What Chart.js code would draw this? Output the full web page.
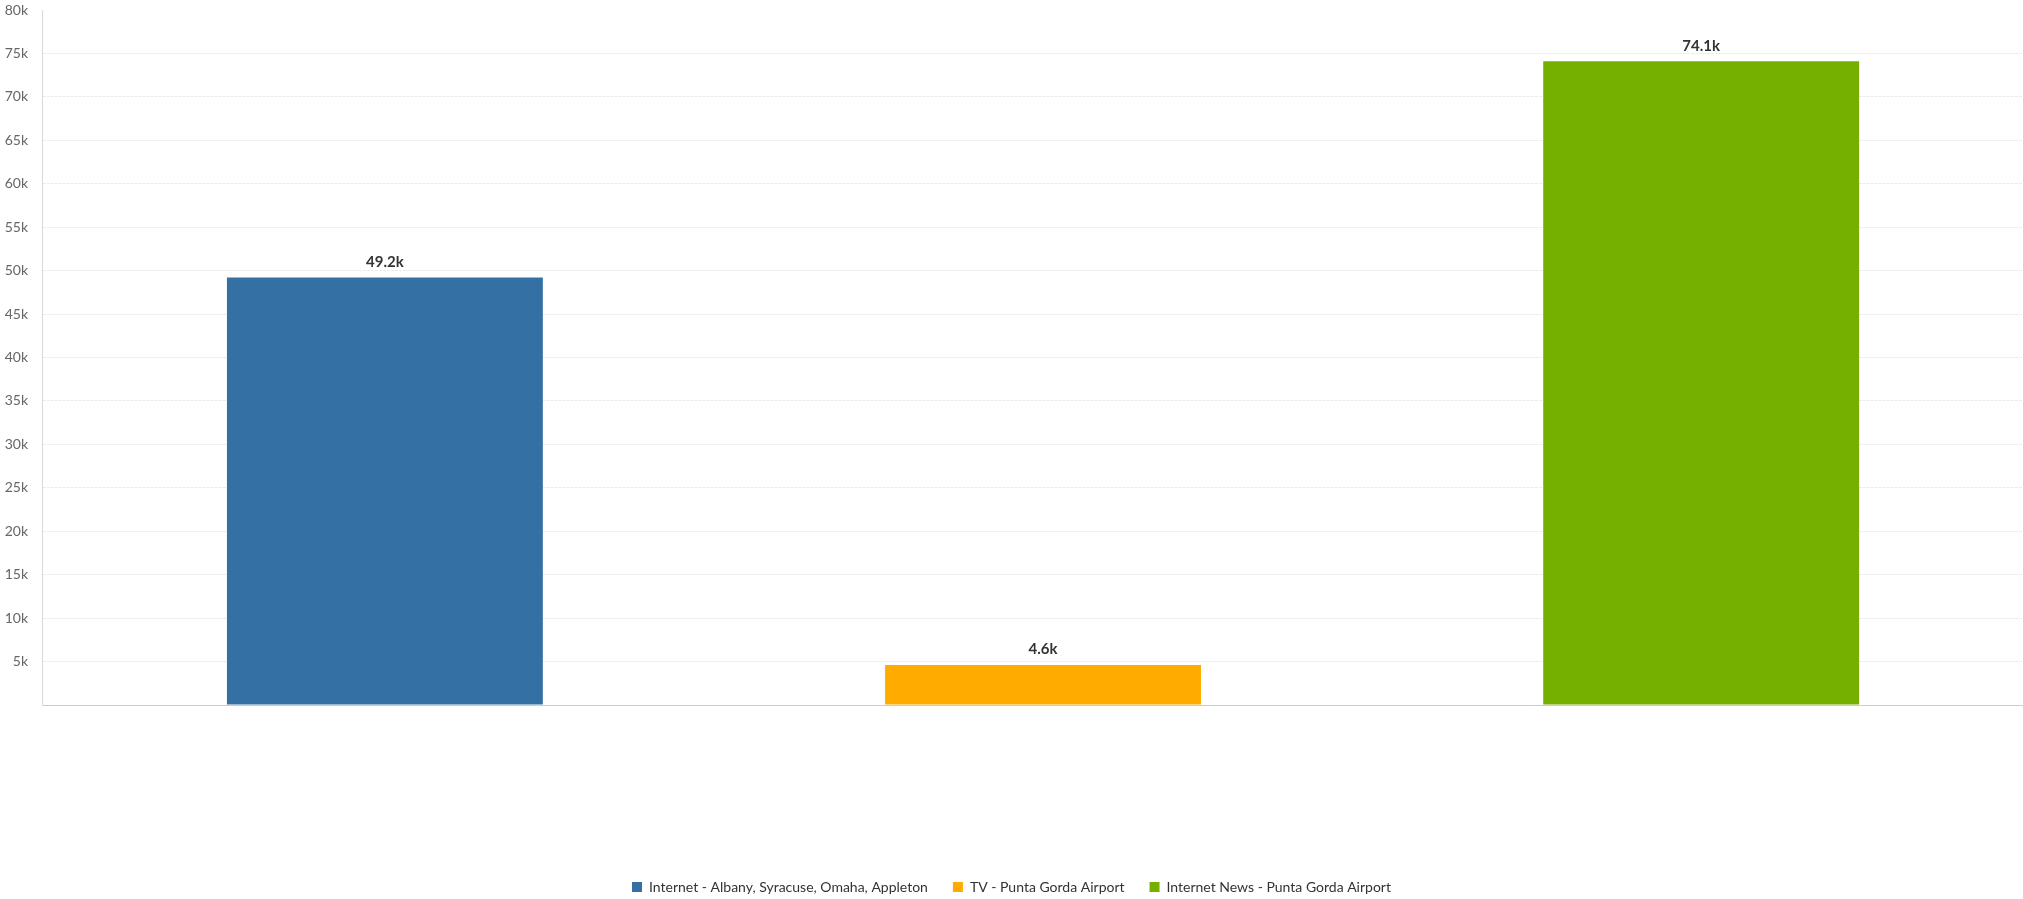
<!DOCTYPE html>
<html>
<head>
<meta charset="utf-8">
<script src="https://cdn.jsdelivr.net/npm/chart.js@4"></script>
<style>
  html, body { margin: 0; padding: 0; background: #fff; overflow: hidden; }
  #wrap { width: 2023px; height: 899px; }
</style>
</head>
<body>
<div id="wrap"><canvas id="bar-chart"></canvas></div>
<script>
// data
var categories = ['Internet - Albany, Syracuse, Omaha, Appleton', 'TV - Punta Gorda Airport', 'Internet News - Punta Gorda Airport'];
var values = [49200, 4600, 74100];
var colors = ['#3470a3', '#ffab00', '#75b000'];
var yTicks = [0, 5000, 10000, 15000, 20000, 25000, 30000, 35000, 40000, 45000, 50000, 55000, 60000, 65000, 70000, 75000, 80000];

Chart.defaults.font.family = 'Lato';

// one dataset per category so the legend shows each one
var datasets = categories.map(function (name, i) {
  return {
    label: name,
    data: [{ x: i, y: values[i] }],
    backgroundColor: colors[i],
    borderWidth: 0,
    grouped: false,
    categoryPercentage: 0.6,
    barPercentage: 0.8
  };
});

// value labels above bars
var valueLabels = {
  id: 'valueLabels',
  afterDatasetsDraw: function (chart) {
    var ctx = chart.ctx;
    ctx.save();
    ctx.font = 'bold 15px Lato';
    ctx.fillStyle = '#333';
    ctx.textAlign = 'center';
    ctx.textBaseline = 'bottom';
    chart.data.datasets.forEach(function (ds, i) {
      var meta = chart.getDatasetMeta(i);
      meta.data.forEach(function (el, j) {
        var v = ds.data[j].y;
        ctx.fillText((v / 1000).toFixed(1) + 'k', el.x, el.y - 8);
      });
    });
    ctx.restore();
  }
};

var ctx = document.getElementById('bar-chart').getContext('2d');
var myChart = new Chart(ctx, {
  type: 'bar',
  data: { datasets: datasets },
  plugins: [valueLabels],
  options: {
    responsive: true,
    maintainAspectRatio: false,
    animation: false,
    layout: { padding: { top: 0, right: 0, bottom: -5, left: 0 } },
    plugins: {
      tooltip: { enabled: false },
      legend: {
        position: 'bottom',
        labels: {
          boxWidth: 10,
          boxHeight: 10,
          padding: 25,
          color: '#333',
          font: { size: 14 }
        }
      }
    },
    scales: {
      x: {
        type: 'linear',
        offset: false,
        min: -0.521,
        max: 2.489,
        ticks: { display: false, stepSize: 1, includeBounds: false },
        grid: { display: false, drawTicks: false },
        border: { display: true, color: '#cccccc', width: 1 },
        afterFit: function (s) { s.height = 150; }
      },
      y: {
        min: 0,
        max: 80000,
        afterBuildTicks: function (s) {
          s.ticks = yTicks.map(function (v) { return { value: v }; });
        },
        afterFit: function (s) {
          s.width = 42;
          s.paddingTop = 10;
          s.paddingBottom = 0;
        },
        ticks: {
          color: '#666',
          padding: 14,
          font: { size: 14 },
          callback: function (v) { return v === 0 ? '' : (v / 1000) + 'k'; }
        },
        grid: {
          drawTicks: false,
          color: function (c) {
            return (c.tick && (c.tick.value === 0 || c.tick.value === 80000)) ? 'rgba(0,0,0,0)' : '#ebebeb';
          }
        },
        border: { display: true, color: '#d9d9d9', width: 1, dash: [3, 1] }
      }
    }
  }
});
</script>
</body>
</html>
